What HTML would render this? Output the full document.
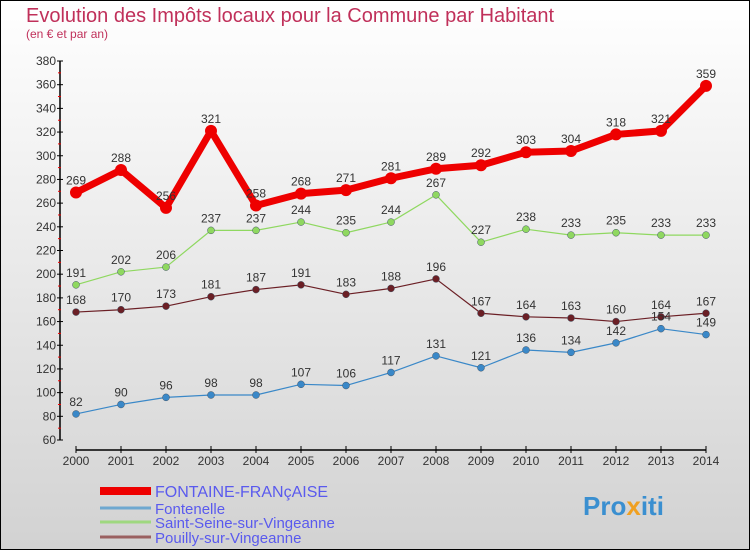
<!DOCTYPE html>
<html><head><meta charset="utf-8"><style>
html,body{margin:0;padding:0}
body{width:750px;height:550px;overflow:hidden;font-family:"Liberation Sans",sans-serif}
</style></head><body>
<svg width="750" height="550" xmlns="http://www.w3.org/2000/svg">
<defs><linearGradient id="bg" x1="0" y1="0" x2="0" y2="1"><stop offset="0" stop-color="#ffffff"/><stop offset="1" stop-color="#d2d2d2"/></linearGradient></defs>
<rect x="0.5" y="0.5" width="749" height="549" fill="url(#bg)" stroke="#000"/>
<text x="26" y="22" font-size="20" fill="#c0305a">Evolution des Impôts locaux pour la Commune par Habitant</text>
<text x="26" y="38" font-size="12" fill="#c0305a">(en € et par an)</text>
<g id="axes"></g>
<g id="series"></g>
<g id="legend"></g>
<text x="583" y="515" font-size="26" font-weight="bold" fill="#3a8fd0">Pro<tspan fill="#f0a020">x</tspan>iti</text>
</svg>
<script>
const years=[2000,2001,2002,2003,2004,2005,2006,2007,2008,2009,2010,2011,2012,2013,2014];
const yTicks=[60,80,100,120,140,160,180,200,220,240,260,280,300,320,340,360,380];
const fontaine=[269,288,256,321,258,268,271,281,289,292,303,304,318,321,359];
const fontenelle=[82,90,96,98,98,107,106,117,131,121,136,134,142,154,149];
const saintSeine=[191,202,206,237,237,244,235,244,267,227,238,233,235,233,233];
const pouilly=[168,170,173,181,187,191,183,188,196,167,164,163,160,164,167];
const names=["FONTAINE-FRANçAISE","Fontenelle","Saint-Seine-sur-Vingeanne","Pouilly-sur-Vingeanne"];
const NS="http://www.w3.org/2000/svg";
const X=i=>76+i*45;
const Y=v=>440-(v-60)*(379/320);
function mk(tag,attrs,parent){const e=document.createElementNS(NS,tag);for(const k in attrs)e.setAttribute(k,attrs[k]);parent.appendChild(e);return e;}
const ax=document.getElementById('axes');
let yl=mk('line',{x1:60,y1:Y(380),x2:60,y2:Y(60),stroke:'#000','stroke-width':1.5},ax);


let xl=mk('line',{x1:76,y1:450,x2:706,y2:450,stroke:'#000','stroke-width':1.5},ax);


yTicks.forEach((v,i)=>{
  mk('line',{x1:57,y1:Y(v),x2:63,y2:Y(v),stroke:'#000'},ax);
  if(i<yTicks.length-1)mk('line',{x1:58,y1:Y(v+10),x2:61,y2:Y(v+10),stroke:'#e00'},ax);
  const t=mk('text',{x:56,y:Y(v)+4,'font-size':12,'text-anchor':'end',fill:'#333'},ax);
  t.textContent=v;
  
  
});
years.forEach((y,i)=>{
  mk('line',{x1:X(i),y1:446,x2:X(i),y2:453,stroke:'#000'},ax);
  const t=mk('text',{x:X(i),y:465,'font-size':12,'text-anchor':'middle',fill:'#333'},ax);
  t.textContent=y;
  
  
});
const sg=document.getElementById('series');
const series=[
 {d:pouilly,c:'#6b1f25',w:1.2,r:3.5,n:'pouilly'},
 {d:saintSeine,c:'#8fd860',w:1.2,r:3.5,n:'saint-seine'},
 {d:fontenelle,c:'#3a88c8',w:1.2,r:3.5,n:'fontenelle'},
 {d:fontaine,c:'#ee0000',w:7,r:6,n:'fontaine'}
];
series.forEach(s=>{
  const g=mk('g',{},sg);
  
  
  const p=mk('polyline',{points:s.d.map((v,i)=>X(i)+','+Y(v)).join(' '),fill:'none',stroke:s.c,'stroke-width':s.w,'stroke-linejoin':'round'},g);
  
  
  s.d.forEach((v,i)=>{
    const c=mk('circle',{cx:X(i),cy:Y(v),r:s.r,fill:s.c,stroke:s.w>2?'none':'#456','stroke-width':0.5},g);
    
    
    const t=mk('text',{x:X(i),y:Y(v)-8,'font-size':12,'text-anchor':'middle',fill:'#333'},g);
    t.textContent=v;
    
    
  });
});
const lg=document.getElementById('legend');
const lc=['#ee0000','#6ea8d0','#9fd880','#9a6060'],lw=[8,3,3,3],ly=[491,508,522,537];
names.forEach((n,i)=>{
  const l=mk('line',{x1:100,y1:ly[i],x2:151,y2:ly[i],stroke:lc[i],'stroke-width':lw[i]},lg);
  
  
  const t=mk('text',{x:155,y:ly[i]+6,'font-size':i==0?16:15,fill:'#5a5aee'},lg);
  t.textContent=n;
  
  
});
</script>
</body></html>
